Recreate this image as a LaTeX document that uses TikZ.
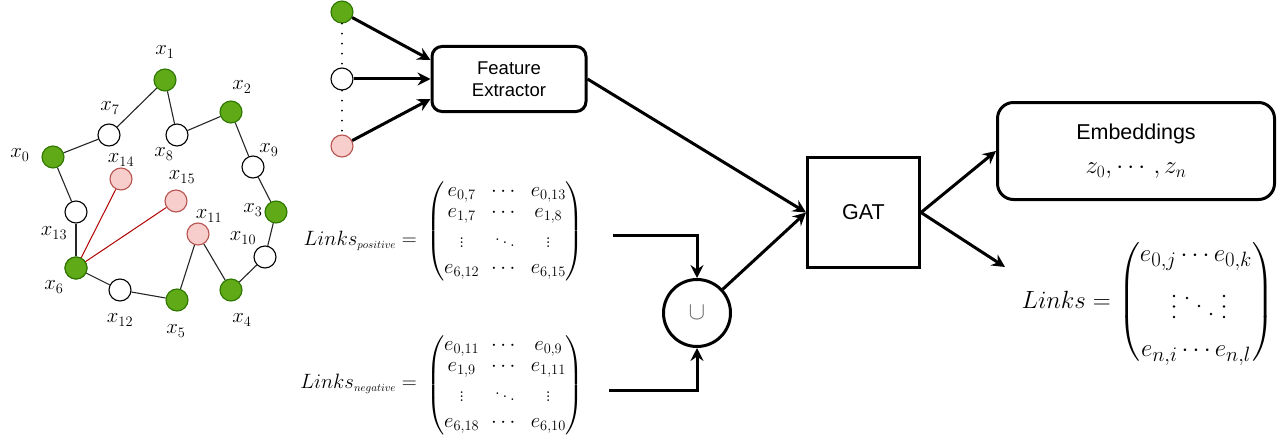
\documentclass[tikz,border=0pt]{standalone}
\usepackage{amsmath}
\usepackage{fontspec}
\newfontfamily\helv{Liberation Sans}
\usetikzlibrary{arrows.meta}
\definecolor{gfill}{HTML}{60A917}
\definecolor{gline}{HTML}{2D7600}
\definecolor{pfill}{HTML}{F8CECC}
\definecolor{pline}{HTML}{B85450}
\definecolor{redge}{HTML}{B20000}
\begin{document}
\begin{tikzpicture}[x=1pt,y=-1pt,
  vtx/.style={circle,draw=black,line width=1.1pt,minimum size=22pt,inner sep=0pt,fill=white},
  gv/.style={vtx,fill=gfill,draw=gline},
  pv/.style={vtx,fill=pfill,draw=pline},
  lab/.style={inner sep=0pt,font=\fontsize{22}{26}\selectfont},
  gedge/.style={line width=1.1pt,draw=black!85},
  redline/.style={line width=1pt,draw=redge},
  arr/.style={line width=3pt,-{Stealth[length=13pt,width=13pt,inset=4.5pt]}},
  box/.style={draw,line width=3pt,inner sep=0pt},
  dotline/.style={line width=2pt,dash pattern=on 0pt off 10pt,line cap=round},
  mat/.style={inner sep=0pt},
  mdot/.style={circle,fill=black,inner sep=0pt,minimum size=2.8pt}
]
\useasboundingbox (0,0) rectangle (1283,444);

% ---------- graph ----------
\node[gv] (x0) at (53,157) {};
\node[gv] (x1) at (165,80) {};
\node[gv] (x2) at (231,112) {};
\node[gv] (x3) at (276,212) {};
\node[gv] (x4) at (231,290) {};
\node[gv] (x5) at (177,300) {};
\node[gv] (x6) at (76,268) {};
\node[vtx] (x7) at (109,135) {};
\node[vtx] (x8) at (177,135) {};
\node[vtx] (x9) at (253,167) {};
\node[vtx] (x10) at (265,257) {};
\node[pv] (x11) at (198,234) {};
\node[vtx] (x12) at (120,290) {};
\node[vtx] (x13) at (76,212) {};
\node[pv] (x14) at (121,179) {};
\node[pv] (x15) at (176,201) {};

\draw[gedge] (x0) -- (x7);
\draw[gedge] (x7) -- (x1);
\draw[gedge] (x1) -- (x8);
\draw[gedge] (x8) -- (x2);
\draw[gedge] (x2) -- (x9);
\draw[gedge] (x9) -- (x3);
\draw[gedge] (x3) -- (x10);
\draw[gedge] (x10) -- (x4);
\draw[gedge] (x4) -- (x11);
\draw[gedge] (x11) -- (x5);
\draw[gedge] (x5) -- (x12);
\draw[gedge] (x12) -- (x6);
\draw[gedge] (x6) -- (x13);
\draw[gedge] (x13) -- (x0);
\draw[redline] (x6.center) -- (x14);
\draw[redline] (x6.center) -- (x15);
\node[gv] at (x6) {};

\node[lab] (l0) at (20,155) {$x_0$};
\node[lab] (l1) at (165,52) {$x_1$};
\node[lab] (l2) at (242,87) {$x_2$};
\node[lab] (l3) at (253,210) {$x_3$};
\node[lab] (l4) at (242,320) {$x_4$};
\node[lab] (l5) at (176,331) {$x_5$};
\node[lab] (l6) at (54,287) {$x_6$};
\node[lab] (l7) at (110,108) {$x_7$};
\node[lab] (l8) at (164,154) {$x_8$};
\node[lab] (l9) at (269,150) {$x_9$};
\node[lab] (l10) at (243,238) {$x_{10}$};
\node[lab] (l11) at (209,216) {$x_{11}$};
\node[lab] (l12) at (120,320) {$x_{12}$};
\node[lab] (l13) at (54,233) {$x_{13}$};
\node[lab] (l14) at (121,160) {$x_{14}$};
\node[lab] (l15) at (182,177) {$x_{15}$};

% ---------- inputs & feature extractor ----------
\node[gv] (i1) at (342,12) {};
\node[vtx] (i2) at (342,79) {};
\node[pv] (i3) at (342,146) {};
\draw[dotline] (i1.south) -- (i2.north);
\draw[dotline] (i2.south) -- (i3.north);

\node[box,rounded corners=10pt,minimum width=154pt,minimum height=65pt,align=center,
      font=\helv\fontsize{18.5}{22}\selectfont] (fe) at (509,79) {Feature\\Extractor};
\draw[arr] (i1) -- (fe.west |- 0,60);
\draw[arr] (i2) -- (fe.west);
\draw[arr] (i3) -- (fe.west |- 0,99);

% ---------- GAT ----------
\node[box,minimum width=112pt,minimum height=110pt,font=\helv\fontsize{21.5}{24}\selectfont] (gat) at (863.5,212.5) {GAT};
\draw[arr] (fe.east) -- (gat.west);

% ---------- link matrices ----------
\node[mat,font=\fontsize{21}{21}\selectfont,anchor=east] (posl) at (417,241)
 {$Links_{\scriptscriptstyle positive} =$};
\node[mat,font=\fontsize{21}{21}\selectfont] (pos) at (505,231)
 {\setlength{\arraycolsep}{6pt}$\begin{pmatrix}
 e_{0,7} & \cdots & e_{0,13}\\
 e_{1,7} & \cdots & e_{1,8}\\[8pt]
 \vdots & \ddots & \vdots\\[5pt]
 e_{6,12} & \cdots & e_{6,15}
 \end{pmatrix}$};
\node[mat,font=\fontsize{21}{21}\selectfont,anchor=east] (negl) at (417,384)
 {$Links_{\scriptscriptstyle negative} =$};
\node[mat,font=\fontsize{21}{21}\selectfont] (neg) at (505,385)
 {\setlength{\arraycolsep}{6pt}$\begin{pmatrix}
 e_{0,11} & \cdots & e_{0,9}\\
 e_{1,9} & \cdots & e_{1,11}\\[8pt]
 \vdots & \ddots & \vdots\\[5pt]
 e_{6,18} & \cdots & e_{6,10}
 \end{pmatrix}$};

\node[circle,draw,line width=3pt,minimum size=67pt,inner sep=0pt,
      font=\fontsize{25}{25}\selectfont,text=black!60] (uni) at (697,313) {$\cup$};
\coordinate (pa) at (613,235);
\coordinate (na) at (609,390);
\draw[arr] (pa) -| (uni.north);
\draw[arr] (na) -| (uni.south);
\draw[arr] (uni) -- (gat.west);

% ---------- outputs ----------
\node[box,rounded corners=16pt,minimum width=277pt,minimum height=97pt,align=center,
      font=\helv\fontsize{21.5}{34}\selectfont] (emb) at (1136,151)
      {Embeddings\\\fontsize{24}{34}\selectfont$z_0,\cdots,z_n$};
\draw[arr] (gat.east) -- (emb.west);

\node[mat,font=\fontsize{25}{28}\selectfont,anchor=base east] (linksl) at (1111,308) {$Links =$};
\node[mat,font=\fontsize{30}{33}\selectfont] (links) at (1196,302)
 {\delimitershortfall=14pt$\begin{pmatrix}
 e_{0,j}\cdots e_{0,k}\\[14.5pt]
 \rule{0pt}{20pt}\\[14.5pt]
 e_{n,i}\cdots e_{n,l}
 \end{pmatrix}$};
\foreach \px/\py in {1174/296,1174/306.5,1174/317,1187/298,1199/306,1211/314,1224/296,1224/306.5,1224/317}
  \node[mdot] at (\px,\py) {};
\coordinate (la) at (1005,267);
\draw[arr] (gat.east) -- (la);
\end{tikzpicture}
\end{document}
